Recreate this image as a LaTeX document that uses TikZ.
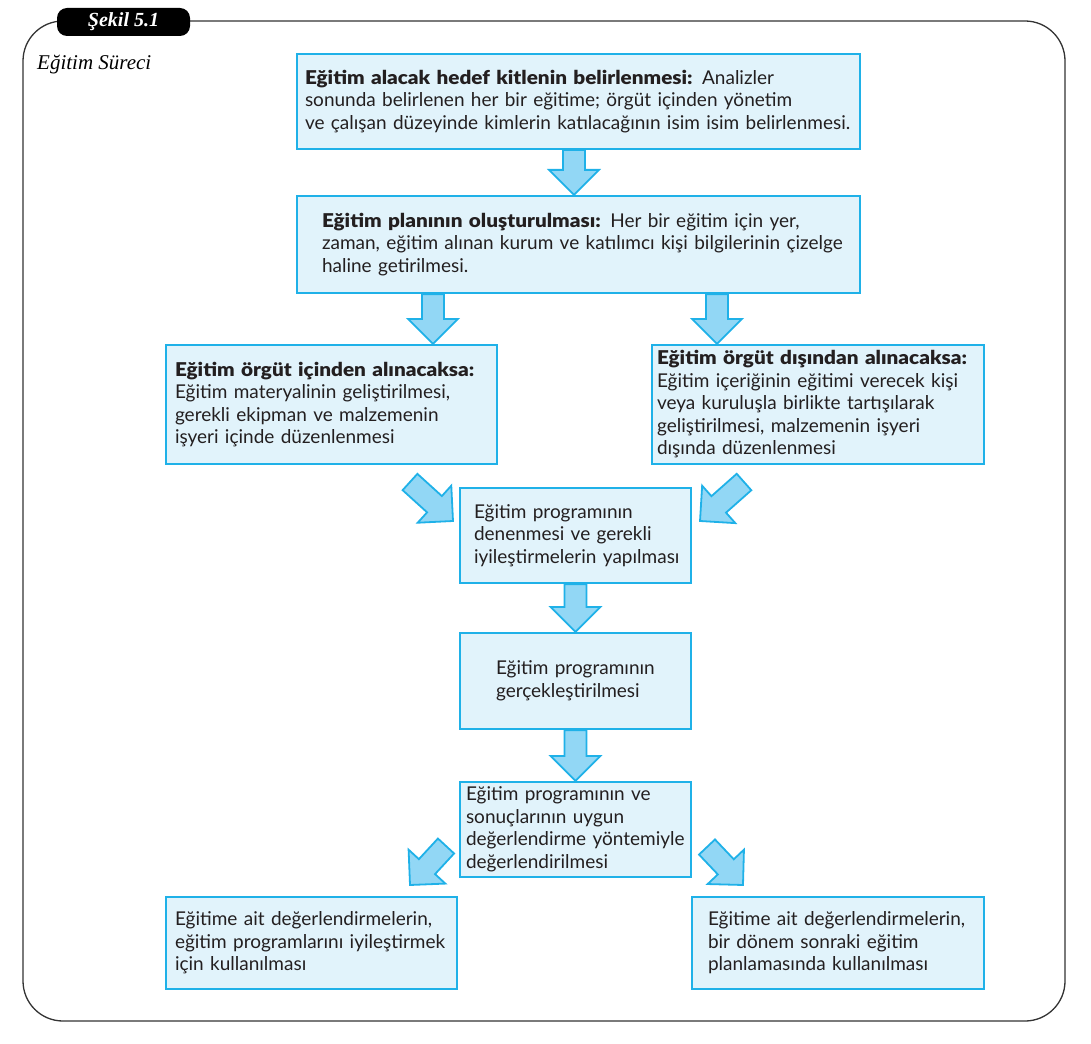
\documentclass[tikz,border=0pt]{standalone}
\usepackage{fontspec}
\newfontfamily\boxfont[BoldFont={Lato Black}, BoldFeatures={FakeStretch=1.09}]{Lato}
\newfontfamily\capfont{Liberation Serif}
\usetikzlibrary{calc}
\definecolor{cyanline}{HTML}{1FB1E8}
\definecolor{boxfill}{HTML}{E1F3FB}
\definecolor{arrowfill}{HTML}{92D7F5}
\definecolor{inktext}{HTML}{231F20}
\tikzset{box/.style = {draw=cyanline, fill=boxfill, line width=2.2, inner sep=0,
                       align=left, text=inktext,
                       execute at begin node={\rightskip=0pt plus 1fil minus 300pt},
                       font=\boxfont\fontsize{19}{22.5}\selectfont}}
\tikzset{fatarrow/.style = {draw=cyanline, fill=arrowfill, line width=1.8, line join=miter}}
\tikzset{frame/.style = {draw=black!80, line width=1.3, rounded corners=40}}
\tikzset{tag/.style = {fill=black, rounded corners=10, minimum width=133, minimum height=28,
                       inner sep=0, text=white, font=\capfont\fontsize{20}{20}\selectfont\bfseries\itshape}}
\newcommand{\fatarrow}[2]{%
  \draw [fatarrow] let \p1 = #1, \p2 = #2,
        \n1 = {veclen(\x2-\x1,\y2-\y1)}, \n2 = {atan2(\y2-\y1,\x2-\x1)} in
        [shift={(\p1)}, rotate=\n2]
        (0,-11) -- (\n1-25,-11) -- (\n1-25,-25) -- (\n1,0) -- (\n1-25,25) -- (\n1-25,11) -- (0,11) -- cycle;}

\begin{document}
\begin{tikzpicture}[x=1pt, y=-1pt]
      \useasboundingbox (0,0) rectangle (1091,1043);
      \draw [frame] (23,21) rectangle (1065,1021);
      \node [tag] (sekil) at (123.5,22) {Şekil 5.1};
      \node [anchor=base west, inner sep=0, font=\capfont\fontsize{21}{21}\selectfont\itshape] (baslik) at (37,70) {Eğitim Süreci};

      \node [box, minimum width=563, minimum height=95, text width=547] (hedef) at (578.5,101.5)
            {\textbf{Eğitim alacak hedef kitlenin belirlenmesi:} Analizler\\
             sonunda belirlenen her bir eğitime; örgüt içinden yönetim\\
             ve çalışan düzeyinde kimlerin katılacağının isim isim belirlenmesi.};
      \node [box, minimum width=563, minimum height=97, text width=513] (plan) at (578.5,244.5)
            {\textbf{Eğitim planının oluşturulması:} Her bir eğitim için yer,\\
             zaman, eğitim alınan kurum ve katılımcı kişi bilgilerinin çizelge\\
             haline getirilmesi.};
      \node [box, minimum width=331, minimum height=119, text width=313] (icinden) at (331.5,404.5)
            {\textbf{Eğitim örgüt içinden alınacaksa:}\\
             Eğitim materyalinin geliştirilmesi,\\
             gerekli ekipman ve malzemenin\\
             işyeri içinde düzenlenmesi};
      \node [box, minimum width=332, minimum height=119, text width=322] (disindan) at (818,404.5)
            {\textbf{Eğitim örgüt dışından alınacaksa:}\\
             Eğitim içeriğinin eğitimi verecek kişi\\
             veya kuruluşla birlikte tartışılarak\\
             geliştirilmesi, malzemenin işyeri\\
             dışında düzenlenmesi};
      \node [box, minimum width=231, minimum height=95, text width=203] (deneme) at (575.5,535.5)
            {Eğitim programının\\ denenmesi ve gerekli\\ iyileştirmelerin yapılması};
      \node [box, minimum width=231, minimum height=96, text width=159] (gercek) at (575.5,681)
            {Eğitim programının\\ gerçekleştirilmesi};
      \node [box, minimum width=231, minimum height=95, text width=219] (deger) at (575.5,829.5)
            {Eğitim programının ve\\ sonuçlarının uygun\\ değerlendirme yöntemiyle\\ değerlendirilmesi};
      \node [box, minimum width=291, minimum height=92, text width=273] (iyiles) at (311.5,943)
            {Eğitime ait değerlendirmelerin,\\ eğitim programlarını iyileştirmek\\ için kullanılması};
      \node [box, minimum width=292, minimum height=92, text width=260] (planla) at (838,943)
            {Eğitime ait değerlendirmelerin,\\ bir dönem sonraki eğitim\\ planlamasında kullanılması};

      \coordinate (ce) at (410,482);
      \coordinate (de) at (744,482);
      \coordinate (gh) at (446,846);
      \coordinate (gi) at (707,847);

      \fatarrow{($(hedef.south)+(-4.5,0)$)}{($(plan.north)+(-4.5,0)$)}
      \fatarrow{($(plan.south)+(-145.5,0)$)}{($(icinden.north)+(101.5,0)$)}
      \fatarrow{($(plan.south)+(138.5,0)$)}{($(disindan.north)+(-101,0)$)}
      \fatarrow{(ce)}{(453,521)}
      \fatarrow{(de)}{(700,521)}
      \fatarrow{(deneme.south)}{(gercek.north)}
      \fatarrow{(gercek.south)}{(deger.north)}
      \fatarrow{(gh)}{(410,885)}
      \fatarrow{(gi)}{(743,885)}
    \end{tikzpicture}
\end{document}
